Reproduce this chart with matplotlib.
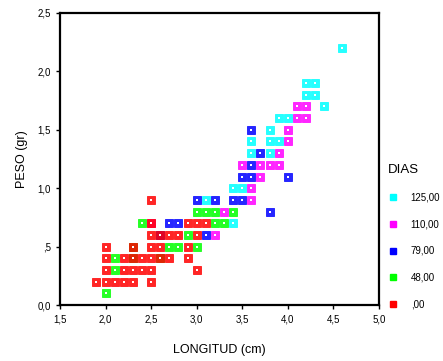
import matplotlib
matplotlib.use('Agg')
import matplotlib.pyplot as plt
from matplotlib.lines import Line2D

plt.rcParams['font.family'] = ['Liberation Sans', 'DejaVu Sans']

# longitud (cm), peso (gr) per group of DIAS
dias_labels = ['125,00', '110,00', '79,00', '48,00', ',00']
colors = ['#00ffff', '#ff00ff', '#0000ff', '#00ff00', '#ff0000']

x_125 = [3.1, 3.4, 3.4, 3.5, 3.6, 3.6, 3.8, 3.8, 3.8, 3.9, 3.9, 4.0, 4.2, 4.2, 4.3, 4.3, 4.4, 4.6]
y_125 = [0.9, 0.7, 1.0, 1.0, 1.3, 1.4, 1.3, 1.4, 1.5, 1.4, 1.6, 1.6, 1.8, 1.9, 1.8, 1.9, 1.7, 2.2]

x_110 = [2.5, 3.2, 3.3, 3.5, 3.6, 3.6, 3.7, 3.7, 3.8, 3.9, 3.9, 4.0, 4.0, 4.1, 4.1, 4.2, 4.2]
y_110 = [0.7, 0.6, 0.8, 1.2, 0.9, 1.0, 1.1, 1.2, 1.2, 1.2, 1.3, 1.4, 1.5, 1.6, 1.7, 1.6, 1.7]

x_79 = [2.6, 2.7, 2.8, 3.0, 3.1, 3.2, 3.4, 3.5, 3.5, 3.6, 3.6, 3.6, 3.7, 3.8, 4.0]
y_79 = [0.6, 0.7, 0.7, 0.9, 0.6, 0.9, 0.9, 0.9, 1.1, 1.1, 1.2, 1.5, 1.3, 0.8, 1.1]

x_48 = [2.0, 2.1, 2.1, 2.3, 2.3, 2.4, 2.6, 2.7, 2.8, 2.9, 3.0, 3.0, 3.1, 3.2, 3.2, 3.3, 3.4]
y_48 = [0.1, 0.3, 0.4, 0.4, 0.5, 0.7, 0.4, 0.5, 0.5, 0.6, 0.5, 0.8, 0.8, 0.8, 0.7, 0.7, 0.8]

x_0 = [1.9, 2.0, 2.0, 2.0, 2.0, 2.1, 2.2, 2.2, 2.2, 2.3, 2.3, 2.3, 2.3, 2.4, 2.4,
       2.5, 2.5, 2.5, 2.5, 2.5, 2.5, 2.5, 2.6, 2.6, 2.6, 2.7, 2.7, 2.8,
       2.9, 2.9, 2.9, 3.0, 3.0, 3.0, 3.1]
y_0 = [0.2, 0.2, 0.3, 0.4, 0.5, 0.2, 0.2, 0.3, 0.4, 0.2, 0.3, 0.4, 0.5, 0.3, 0.4,
       0.2, 0.3, 0.4, 0.5, 0.6, 0.7, 0.9, 0.4, 0.5, 0.6, 0.4, 0.6, 0.6,
       0.4, 0.5, 0.7, 0.3, 0.6, 0.7, 0.7]

groups = [(x_125, y_125), (x_110, y_110), (x_79, y_79), (x_48, y_48), (x_0, y_0)]

fig = plt.figure(figsize=(4.43, 3.61), dpi=100)
ax = fig.add_axes([0.1354, 0.155, 0.72, 0.809])

for (xs, ys), c in zip(groups, colors):
    ax.scatter(xs, ys, marker='s', s=30, c=c, edgecolors=c, linewidths=0.6, alpha=0.85, zorder=3)
    ax.scatter(xs, ys, marker='s', s=1.5, c='white', linewidths=0, zorder=4)

ax.set_xlim(1.5, 5.0)
ax.set_ylim(0.0, 2.5)
xt = [1.5, 2.0, 2.5, 3.0, 3.5, 4.0, 4.5, 5.0]
yt = [0.0, 0.5, 1.0, 1.5, 2.0, 2.5]
ax.set_xticks(xt)
ax.set_xticklabels(['1,5', '2,0', '2,5', '3,0', '3,5', '4,0', '4,5', '5,0'])
ax.set_yticks(yt)
ax.set_yticklabels(['0,0', ',5', '1,0', '1,5', '2,0', '2,5'])
ax.tick_params(labelsize=7, length=3, width=1, direction='out')
for sp in ax.spines.values():
    sp.set_linewidth(1.6)

ax.set_xlabel('LONGITUD (cm)', fontsize=9, labelpad=14)
ax.set_ylabel('PESO (gr)', fontsize=9, labelpad=7)

handles = [Line2D([], [], marker='s', linestyle='none', markersize=4.5,
                  markerfacecolor=c, markeredgecolor=c) for c in colors]
leg = ax.legend(handles, dias_labels, title='DIAS', loc='upper left',
                bbox_to_anchor=(1.008, 0.505), frameon=False, fontsize=7,
                title_fontsize=9.5, labelspacing=1.7, handletextpad=1.3,
                handlelength=1.0, borderaxespad=0.3)
leg._legend_box.align = 'left'

fig.savefig('out.png', dpi=100)
